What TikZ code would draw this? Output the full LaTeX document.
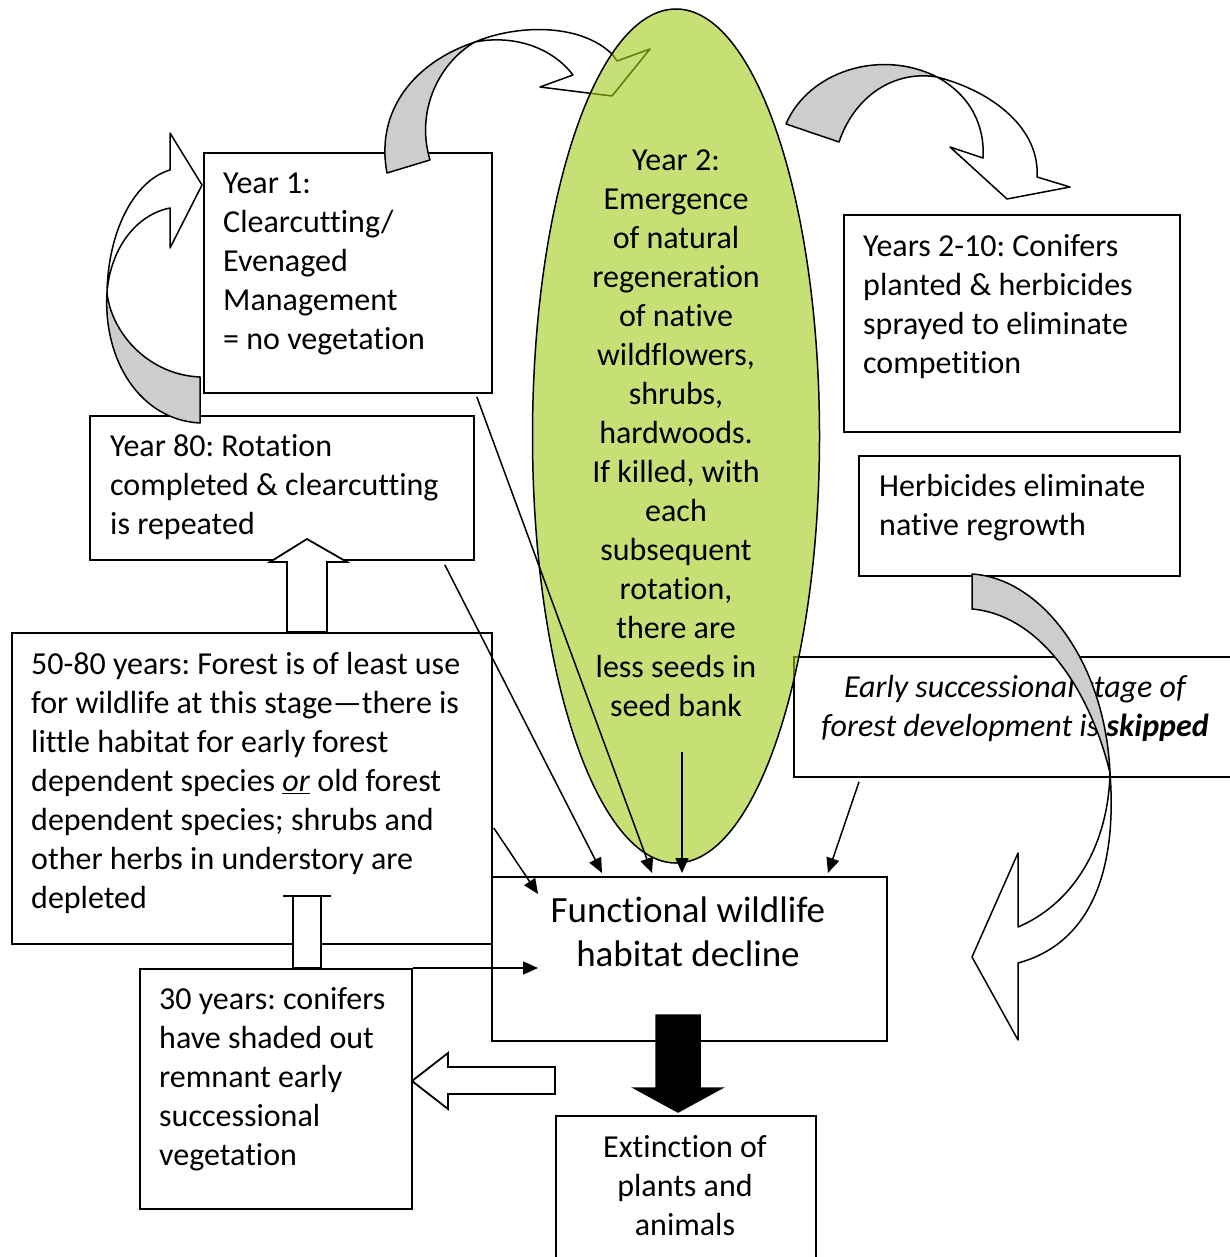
\documentclass[tikz,border=0pt]{standalone}
\usepackage{fontspec}
\setmainfont{Carlito}[Ligatures={NoCommon}]
\usetikzlibrary{arrows.meta,calc,shapes.geometric}
\definecolor{lime}{RGB}{160,203,27}
\definecolor{shade}{RGB}{205,205,205}
\frenchspacing
\begin{document}
\begin{tikzpicture}[x=1pt,y=-1pt,
  box/.style={draw, line width=1.8pt, fill=white, rectangle, inner sep=0pt, anchor=north west},
  txt/.style={inner sep=0pt, font=\fontsize{32}{39}\selectfont, align=left, anchor=north west},
  ctxt/.style={inner sep=0pt, font=\fontsize{32}{39}\selectfont, align=center, anchor=north},
  arr/.style={line width=1.5pt, -{Triangle[length=15pt,width=13pt]}},
  curved/.style={draw, line width=1.5pt, line join=round},
  blockarrow/.style={draw, fill=white, line width=1.8pt, line join=miter}]
\useasboundingbox (0,0) rectangle (1230,1257);

% boxes
\node[box, minimum width=288pt, minimum height=240pt] (y1) at (203,152) {};
\node[box, minimum width=384pt, minimum height=144pt] (y80) at (89,415) {};
\node[box, minimum width=480pt, minimum height=311pt] (f80) at (11,632) {};
\node[box, minimum width=272pt, minimum height=240pt] (y30) at (139,968) {};
\node[box, minimum width=395pt, minimum height=164pt] (func) at (491,876) {};
\node[box, minimum width=260pt, minimum height=150pt] (ext) at (555,1115) {};
\node[box, minimum width=336pt, minimum height=217pt] (y210) at (843,214) {};
\node[box, minimum width=321pt, minimum height=120pt] (herb) at (858,455) {};
\node[box, minimum width=444pt, minimum height=120pt] (early) at (793,656) {};

% texts
\node[txt] (y1t) at (223,166) {\strut Year 1:\\Clearcutting/\\Evenaged\\Management\\= no vegetation};
\node[txt] (y80t) at (110,429) {\strut Year 80: Rotation\\completed \& clearcutting\\is repeated};
\node[txt] (f80t) at (31,647) {\strut 50-80 years: Forest is of least use\\for wildlife at this stage—there is\\little habitat for early forest\\dependent species \underline{\textit{or}} old forest\\dependent species; shrubs and\\other herbs in understory are\\depleted};
\node[txt] (y30t) at (159,982) {\strut 30 years: conifers\\have shaded out\\remnant early\\successional\\vegetation};
\node[txt] (y210t) at (863,229) {\strut Years 2-10: Conifers\\planted \& herbicides\\sprayed to eliminate\\competition};
\node[txt] (herbt) at (879,469) {\strut Herbicides eliminate\\native regrowth};
\node[ctxt, font=\fontsize{32}{39}\selectfont\itshape] (earlyt) at (1015,670) {\strut Early successional stage of\\forest development is \textbf{skipped}};
\node[ctxt, font=\fontsize{37}{44}\selectfont] (funct) at (688,891) {\strut Functional wildlife\\habitat decline};
\node[ctxt] (extt) at (685,1130) {\strut Extinction of\\plants and\\animals};

% curved arrow A (left loop into Year 1)
\path[curved, fill=shade] (107,293) .. controls (112,335) and (150,375) .. (200,377) -- (200,423) .. controls (140,420) and (103,360) .. (107,293) -- cycle;
\path[curved, fill=white] (107,293) .. controls (108,230) and (135,180) .. (170,170) -- (170,133) -- (202,185) -- (170,248) -- (170,208) .. controls (135,215) and (110,250) .. (107,293) -- cycle;

% curved arrow B (Year 1 to Year 2)
\path[curved, fill=shade] (387,173) .. controls (375,110) and (415,62) .. (475,42) .. controls (440,62) and (415,110) .. (430,160) -- cycle;
\path[curved, fill=white] (475,42) .. controls (515,25) and (580,22) .. (613,55) -- (617,61) -- (650,49) -- (612,96) -- (540,87) -- (573,75) .. controls (550,45) and (510,35) .. (475,42) -- cycle;

% curved arrow C (Year 2 to Years 2-10)
\path[curved, fill=shade] (786,124) .. controls (808,72) and (880,48) .. (937,77) .. controls (895,70) and (855,95) .. (839,142) -- cycle;
\path[curved, fill=white] (937,77) .. controls (995,92) and (1040,130) .. (1037,177) -- (1070,187) -- (1007,199) -- (950,147) -- (983,158) .. controls (985,125) and (970,95) .. (937,77) -- cycle;

% curved arrow D (Herbicides down)
\path[curved, fill=shade] (972,574) .. controls (1040,578) and (1105,660) .. (1110,773) .. controls (1090,690) and (1040,615) .. (972,609) -- cycle;
\path[curved, fill=white] (1110,773) .. controls (1118,880) and (1085,945) .. (1018,963) -- (1018,1040) -- (972,957) -- (1018,853) -- (1018,927) .. controls (1070,905) and (1108,850) .. (1110,773) -- cycle;

% ellipse
\node[ellipse, draw, line width=1.5pt, fill=lime, fill opacity=0.6, text opacity=1, minimum width=287pt, minimum height=854pt, inner sep=0pt, align=center, font=\fontsize{32}{39}\selectfont] (ell) at (676,436) {\strut Year 2:\\Emergence\\of natural\\regeneration\\of native\\wildflowers,\\shrubs,\\hardwoods.\\If killed, with\\each\\subsequent\\rotation,\\there are\\less seeds in\\seed bank\strut};

% thin arrows
\draw[arr] ($(y1.south east)+(-16,3)$) -- ($(func.north west)+(161,-3)$);
\draw[arr] ($(y80.south east)+(-30,4)$) -- ($(func.north west)+(111,-3)$);
\draw[arr] ($(ell.center)+(6,316)$) -- ($(func.north west)+(191,-3)$);
\draw[arr] ($(early.south west)+(66,4)$) -- ($(func.north west)+(337,-3)$);
\draw[arr] ($(f80.north east)+(1,196)$) -- ($(func.north west)+(47,18)$);
\draw[arr] (y30.north east) -- ($(func.north west)+(47,92)$);

% block arrows
\path[blockarrow] (287,632) -- (287,562) -- (270,562) -- (307,539) -- (347,562) -- (327,562) -- (327,632) -- cycle;
\path[blockarrow] (293,896) rectangle (321,968);
\draw[line width=1.8pt] (283,896) -- (331,896);
\path[blockarrow] (555,1067) -- (448,1067) -- (448,1053) -- (412,1081) -- (448,1109) -- (448,1094) -- (555,1094) -- cycle;
\path[draw, fill=black, line width=1.5pt] (656,1015) -- (700,1015) -- (700,1088) -- (722,1088) -- (678,1112) -- (634,1088) -- (656,1088) -- cycle;
\end{tikzpicture}
\end{document}
